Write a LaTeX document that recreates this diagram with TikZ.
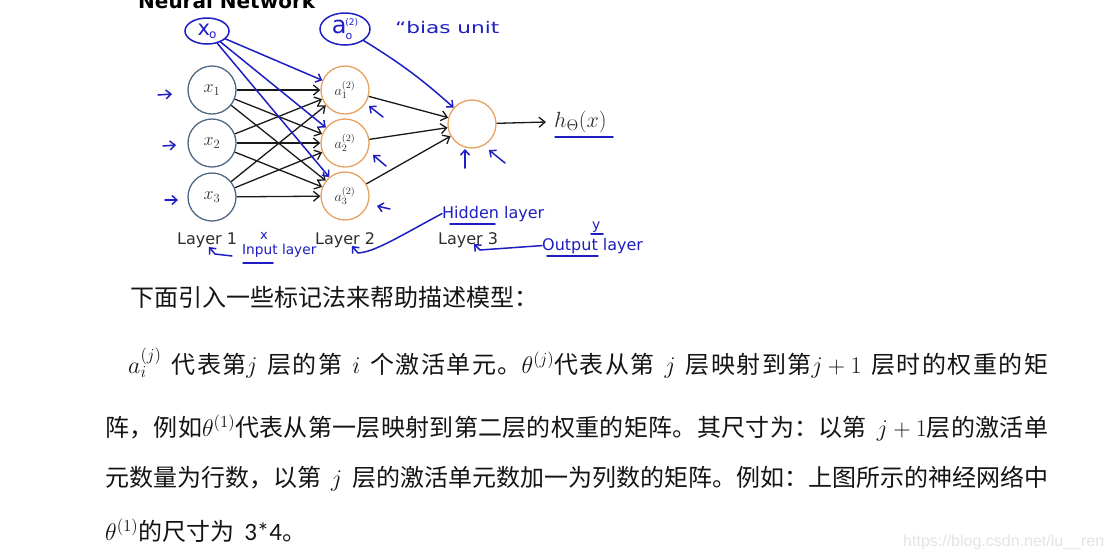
\RequirePackage{fix-cm}
\documentclass[tikz,border=0pt]{standalone}
\usepackage{fontspec}
\setmainfont{Noto Sans CJK SC}
\newfontfamily\dvs{DejaVu Sans}
\newfontfamily\libs{Liberation Sans}
\newfontfamily\carl{Carlito}
\newfontfamily\hand{DejaVu Sans}
\usetikzlibrary{arrows.meta,shapes.geometric}
\XeTeXinterchartokenstate=1
\newcount\cjkc
\cjkc="4E00
\loop \XeTeXcharclass\cjkc=7 \advance\cjkc by 1 \ifnum\cjkc<"A000 \repeat
\XeTeXcharclass"3002=7
\XeTeXcharclass"FF0C=7
\XeTeXcharclass"FF1A=7
\XeTeXinterchartoks 7 7={\hskip0pt plus1fil\relax}
\newcommand\gap{\hspace{10pt}}
\definecolor{pen}{RGB}{30,30,195}
\definecolor{inedge}{RGB}{78,104,132}
\definecolor{hedge}{RGB}{232,162,96}
\definecolor{lab}{RGB}{45,45,45}
\definecolor{wm}{RGB}{228,228,228}
\begin{document}
\begin{tikzpicture}[x=1pt,y=-1pt,
  inode/.style={circle,draw=inedge,line width=1.3pt,minimum size=48pt,inner sep=0pt,font=\fontsize{18}{18}\selectfont,text=lab},
  hnode/.style={circle,draw=hedge,line width=1.3pt,minimum size=48pt,inner sep=0pt,font=\fontsize{14}{14}\selectfont,text=lab},
  edge/.style={draw=black!90,line width=1.3pt,-{Straight Barb[length=6pt,width=10pt]}},
  pen/.style={draw=pen,line width=1.5pt,line cap=round,line join=round},
  penarrow/.style={pen,-{Straight Barb[length=5pt,width=9pt]}},
  hw/.style={text=pen,font=\hand\fontsize{16}{16}\selectfont,inner sep=0pt,anchor=base west},
  layerlab/.style={font=\dvs\fontsize{16}{16}\selectfont,text=lab,anchor=base west,inner sep=0pt},
  body/.style={font=\fontsize{24}{24}\selectfont,anchor=base west,inner sep=0pt,text=black!92}
]
\clip (0,0) rectangle (1110,558);
\fill[white] (0,0) rectangle (1110,558);

% title
\node[font=\dvs\bfseries\fontsize{20}{20}\selectfont,anchor=base west,inner sep=0pt] (title) at (138,8) {Neural Network};

% network nodes
\node[inode] (x1) at (212,90) {$x_1$};
\node[inode] (x2) at (212,143) {$x_2$};
\node[inode] (x3) at (212,197) {$x_3$};
\node[hnode] (a1) at (345,90) {$a_1^{(2)}$};
\node[hnode] (a2) at (345,143) {$a_2^{(2)}$};
\node[hnode] (a3) at (345,196) {$a_3^{(2)}$};
\node[hnode] (out) at (472,124) {};
\node[font=\fontsize{22}{22}\selectfont,anchor=west,inner sep=0pt,text=lab] (hout) at (554,122) {$h_\Theta(x)$};

\foreach \i in {1,2,3}{\foreach \j in {1,2,3}{\draw[edge] (x\i) -- (a\j);}}
\foreach \j in {1,2,3}{\draw[edge] (a\j) -- (out);}
\draw[edge] (out) -- ([xshift=-8pt]hout.west);

% layer labels
\node[layerlab] (L1) at (177,244) {Layer 1};
\node[layerlab] (L2) at (315,244) {Layer 2};
\node[layerlab] (L3) at (438,244) {Layer 3};

% handwritten annotations
\node[ellipse,draw=pen,line width=1.5pt,minimum width=44pt,minimum height=26pt,inner sep=0pt,text=pen] (x0) at (207,31)
  {\hand\fontsize{21}{21}\selectfont x\hspace{-1pt}\raisebox{-3pt}{\fontsize{12}{12}\selectfont o}};
\node[ellipse,draw=pen,line width=1.5pt,minimum width=50pt,minimum height=32pt,inner sep=0pt,text=pen] (a0) at (345,29)
  {\hand\fontsize{24}{24}\selectfont a\hspace{-1pt}\raisebox{-6pt}{\fontsize{11}{11}\selectfont o}\hspace{-7pt}\raisebox{8pt}{\fontsize{9}{9}\selectfont (2)}};
\node[hw] (bias) at (395,33) {\scalebox{1.35}[1]{“bias unit}};

\draw[penarrow] (x0) -- (a1);
\draw[penarrow] (x0) -- (a2);
\draw[penarrow] (x0) -- (a3);
\draw[penarrow] (a0) to[bend left=5] (out);

% small arrows
\draw[penarrow] (158,95) -- (172,94);
\draw[penarrow] (163,146) -- (176,145);
\draw[penarrow] (165,200) -- (178,200);
\draw[penarrow] (383,117) -- (369,106);
\draw[penarrow] (386,166) -- (373,155);
\draw[penarrow] (390,209) -- (377,206);
\draw[penarrow] (465,168) -- (465,149);
\draw[penarrow] (505,163) -- (489,150);

% underline of output label
\draw[pen] (555,137) -- (613,137);

% layer annotations
\node[hw,font=\hand\fontsize{13}{13}\selectfont] (xmark) at (260,239) {x};
\node[hw,font=\hand\fontsize{13.7}{13.7}\selectfont] (inl) at (242,254) {Input layer};
\draw[pen] (243,263) -- (273,263);
\draw[penarrow] (232,256) -- (215,254) -- (209,247);

\node[hw] (hid) at (442,218) {Hidden layer};
\draw[pen] (450,224) -- (495,224);
\draw[penarrow] (hid.west) .. controls (400,236) and (375,252) .. (358,253) -- (352,246);

\node[hw] (outl) at (542,250) {Output layer};
\draw[pen] (547,256) -- (598,256);
\node[hw,font=\hand\fontsize{14}{14}\selectfont] (ymark) at (592,229) {y};
\draw[pen] (591,234) -- (603,234);
\draw[penarrow] (outl.west) -- (480,250) -- (474,244);

% body text
\node[body] (t1) at (130,306) {下面引入一些标记法来帮助描述模型：};
\node[body] (t2) at (128,373) {\hbox to 920pt{$a_i^{(j)}$\gap 代表第$j$\gap 层的第\gap $i$\gap 个激活单元。$\theta^{(j)}$代表从第\gap $j$\gap 层映射到第$j+1$\gap 层时的权重的矩}};
\node[body] (t3) at (105,436) {\hbox to 943pt{阵，例如$\theta^{(1)}$代表从第一层映射到第二层的权重的矩阵。其尺寸为：以第\gap $j+1$层的激活单}};
\node[body] (t4) at (105,486) {\hbox to 943pt{元数量为行数，以第\gap $j$\gap 层的激活单元数加一为列数的矩阵。例如：上图所示的神经网络中}};
\node[body] (t5) at (105,540) {$\theta^{(1)}$的尺寸为\gap{\carl\fontsize{25}{25}\selectfont 3*4}。};

% watermark
\node[font=\libs\fontsize{16}{16}\selectfont,text=wm,anchor=base west,inner sep=0pt] (wmark) at (903,546) {https://blog.csdn.net/lu\_\_ren};
\end{tikzpicture}
\end{document}
